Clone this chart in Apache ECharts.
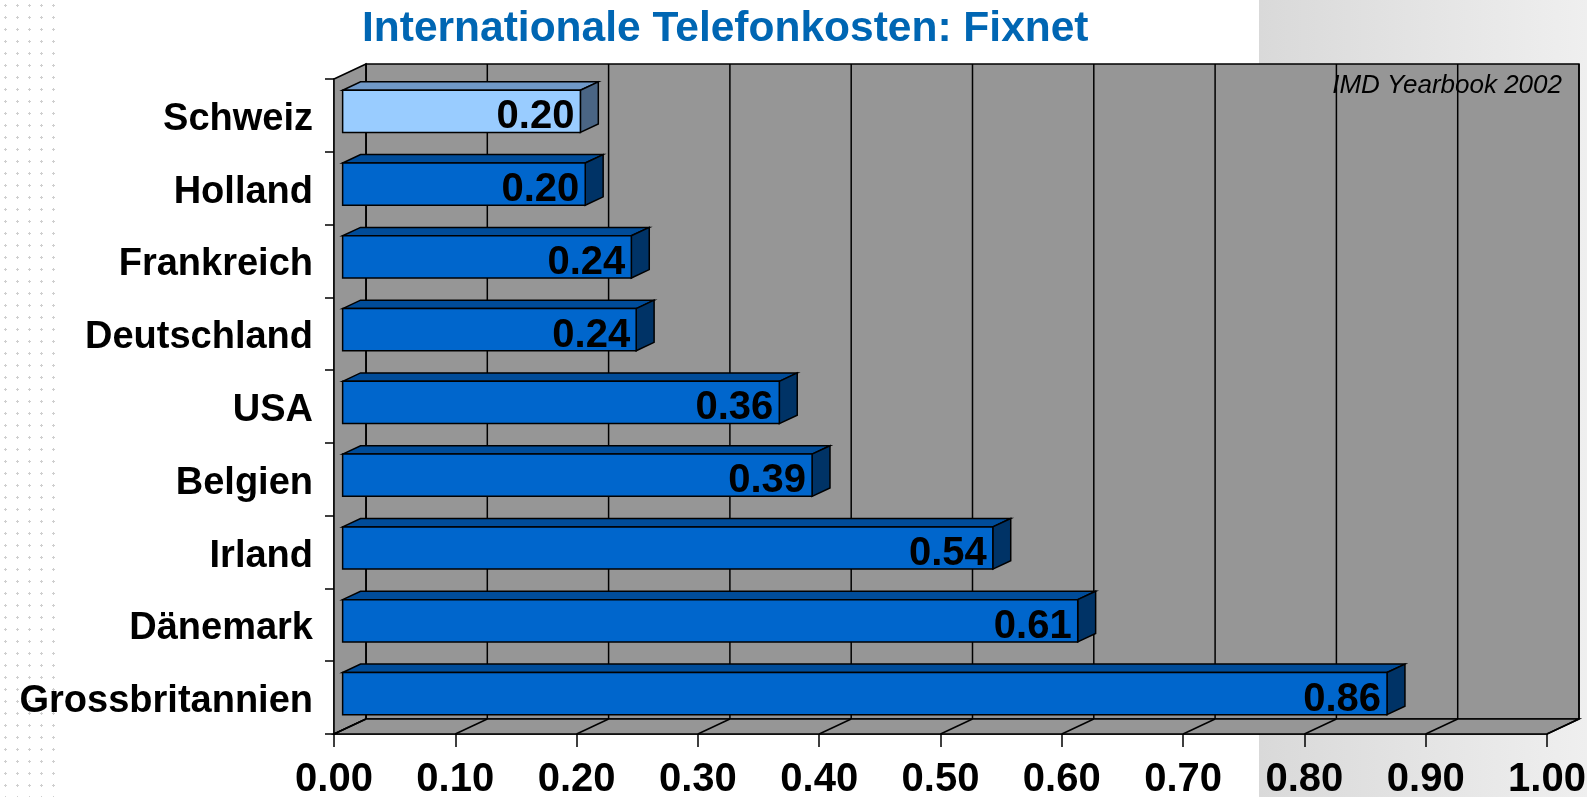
<!DOCTYPE html>
<html>
<head>
<meta charset="utf-8">
<title>Internationale Telefonkosten: Fixnet</title>
<script src="https://cdn.jsdelivr.net/npm/echarts@6/dist/echarts.min.js"></script>
<style>
  html, body { margin: 0; padding: 0; background: #fff; }
  #main { width: 1587px; height: 797px; }
</style>
</head>
<body>
<div id="main"></div>
<script>
// data
const countries = ['Schweiz', 'Holland', 'Frankreich', 'Deutschland', 'USA', 'Belgien', 'Irland', 'Dänemark', 'Grossbritannien'];
const costs = [0.196, 0.200, 0.238, 0.242, 0.360, 0.387, 0.536, 0.606, 0.861];
const xTicks = [0, 0.1, 0.2, 0.3, 0.4, 0.5, 0.6, 0.7, 0.8, 0.9, 1.0];
const highlighted = 'Schweiz';

const FONT = '"Liberation Sans", Arial, sans-serif';
// depth of the 3d box (px)
const DX = 32, DY = -15;
const LINE = { stroke: '#000', lineWidth: 1.5 };

const chart = echarts.init(document.getElementById('main'));

// small dot pattern for the slide background on the left
const dots = document.createElement('canvas');
dots.width = 12;
dots.height = 12;
const ctx = dots.getContext('2d');
ctx.fillStyle = '#cfcfcf';
ctx.fillRect(5, 4, 1, 3);
ctx.fillRect(4, 5, 3, 1);

const renderFrame = (params, api) => {
  const cs = params.coordSys;
  const x = api.coord([api.value(0), 0])[0];
  const top = cs.y, bottom = cs.y + cs.height;
  const left = cs.x, right = cs.x + cs.width;
  const children = [];
  if (params.dataIndex === 0) {
    const fill = { fill: '#969696', stroke: '#000', lineWidth: 1.5 };
    // back wall
    children.push({ type: 'polygon', z2: 0, shape: { points: [[left + DX, top + DY], [right + DX, top + DY], [right + DX, bottom + DY], [left + DX, bottom + DY]] }, style: fill });
    // left wall
    children.push({ type: 'polygon', z2: 0, shape: { points: [[left, top], [left + DX, top + DY], [left + DX, bottom + DY], [left, bottom]] }, style: fill });
    // floor
    children.push({ type: 'polygon', z2: 0, shape: { points: [[left, bottom], [left + DX, bottom + DY], [right + DX, bottom + DY], [right, bottom]] }, style: fill });
  }
  children.push({ type: 'line', z2: 1, shape: { x1: x + DX, y1: top + DY, x2: x + DX, y2: bottom + DY }, style: LINE });
  children.push({ type: 'line', z2: 1, shape: { x1: x, y1: bottom, x2: x + DX, y2: bottom + DY }, style: LINE });
  return { type: 'group', children };
};

const renderBar = (params, api) => {
  const v = api.value(0), idx = api.value(1);
  const p0 = api.coord([0, idx]);
  const p1 = api.coord([v, idx]);
  const band = api.size([0, 1])[1];
  const h = band * 0.58;
  const fx = DX * 0.27, fy = DY * 0.27;
  const dx = DX * 0.56, dy = DY * 0.56;
  const x0 = p0[0] + fx, x1 = p1[0] + fx;
  const yc = p0[1] + fy;
  const t = yc - h / 2, b = yc + h / 2;
  const c = countries[idx] === highlighted
    ? { front: '#99CCFF', top: '#7099C8', side: '#4A6584' }
    : { front: '#0066CC', top: '#004C99', side: '#003366' };
  return {
    type: 'group',
    children: [
      { type: 'polygon', shape: { points: [[x0, t], [x0 + dx, t + dy], [x1 + dx, t + dy], [x1, t]] }, style: { fill: c.top, stroke: '#000', lineWidth: 1.5 } },
      { type: 'polygon', shape: { points: [[x1, t], [x1 + dx, t + dy], [x1 + dx, b + dy], [x1, b]] }, style: { fill: c.side, stroke: '#000', lineWidth: 1.5 } },
      { type: 'rect', shape: { x: x0, y: t, width: x1 - x0, height: h }, style: { fill: c.front, stroke: '#000', lineWidth: 1.5 } },
      {
        type: 'text',
        style: {
          text: v.toFixed(2), x: x1 - 6, y: yc + 6,
          align: 'right', verticalAlign: 'middle',
          fontSize: 40, fontWeight: 'bold', fontFamily: FONT, fill: '#000'
        }
      }
    ]
  };
};

chart.setOption({
  backgroundColor: '#fff',
  title: {
    text: 'Internationale Telefonkosten: Fixnet',
    left: 357,
    top: 3,
    textStyle: { color: '#0066B3', fontSize: 42.5, fontWeight: 'bold', fontFamily: FONT }
  },
  graphic: [
    {
      type: 'rect', z: -10, silent: true,
      shape: { x: 1259, y: 0, width: 328, height: 797 },
      style: { fill: new echarts.graphic.LinearGradient(0, 0, 1, 0, [{ offset: 0, color: '#d9d9d9' }, { offset: 1, color: '#efefef' }]) }
    },
    {
      type: 'rect', z: -10, silent: true,
      shape: { x: 0, y: 0, width: 60, height: 797 },
      style: { fill: { image: dots, repeat: 'repeat' } }
    },
    {
      type: 'text', z: 100, silent: true,
      style: {
        text: 'IMD Yearbook 2002', x: 1562, y: 86,
        align: 'right', verticalAlign: 'middle',
        fontSize: 26, fontStyle: 'italic', fontFamily: FONT, fill: '#000'
      }
    }
  ],
  grid: { left: 334, right: 40, top: 79, bottom: 63, outerBoundsMode: 'none', containLabel: false },
  xAxis: {
    type: 'value',
    min: 0,
    max: 1,
    interval: 0.1,
    axisLine: { show: true, lineStyle: { color: '#000', width: 1.5 } },
    axisTick: { show: true, length: 13, lineStyle: { color: '#000', width: 1.5 } },
    axisLabel: {
      margin: 26,
      formatter: v => v.toFixed(2),
      fontSize: 40, fontWeight: 'bold', fontFamily: FONT, color: '#000'
    },
    splitLine: { show: false }
  },
  yAxis: {
    type: 'category',
    data: countries,
    inverse: true,
    axisLine: { show: true, lineStyle: { color: '#000', width: 1.5 } },
    axisTick: { show: true, length: 9, lineStyle: { color: '#000', width: 1.5 } },
    axisLabel: {
      margin: 21,
      formatter: v => '{c|' + v + '}',
      rich: {
        c: { padding: [8, 0, 0, 0], fontSize: 38, fontWeight: 'bold', fontFamily: FONT, color: '#000' }
      }
    },
    splitLine: { show: false }
  },
  series: [
    {
      name: 'frame',
      type: 'custom',
      z: 1,
      silent: true,
      clip: false,
      renderItem: renderFrame,
      encode: { x: 0, y: 1 },
      data: xTicks.map(v => [v, 0])
    },
    {
      name: 'Kosten',
      type: 'custom',
      z: 3,
      clip: false,
      renderItem: renderBar,
      encode: { x: 0, y: 1 },
      data: costs.map((v, i) => [v, i])
    }
  ]
});
</script>
</body>
</html>
